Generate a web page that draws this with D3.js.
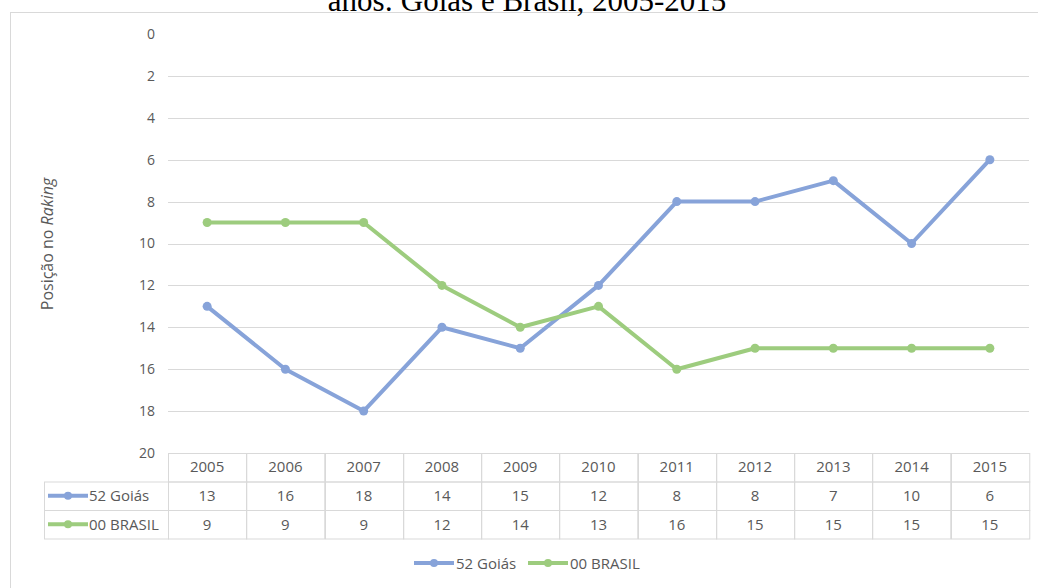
<!DOCTYPE html>
<html>
<head>
<meta charset="utf-8">
<script src="https://cdn.jsdelivr.net/npm/d3@7"></script>
<style>
body { margin: 0; background: #fff; }
svg { display: block; }
</style>
</head>
<body>
<div id="chart"></div>
<script>
// data
var years = ["2005", "2006", "2007", "2008", "2009", "2010", "2011", "2012", "2013", "2014", "2015"];
var goias = [13, 16, 18, 14, 15, 12, 8, 8, 7, 10, 6];
var brasil = [9, 9, 9, 12, 14, 13, 16, 15, 15, 15, 15];
var seriesNames = ["52 Goiás", "00 BRASIL"];
var yTicks = [0, 2, 4, 6, 8, 10, 12, 14, 16, 18, 20];

var svgWidth = 1038;
var svgHeight = 588;
var colors = ["#87a3d9", "#9dcc7e"];
var font = "'Open Sans', 'Noto Sans', sans-serif";
var textColor = "#595959";

var svg = d3.select("#chart")
    .append("svg")
    .attr("width", svgWidth)
    .attr("height", svgHeight);

// chart frame
svg.append("rect")
    .attr("x", 10.5)
    .attr("y", 12.5)
    .attr("width", 1040)
    .attr("height", 600)
    .attr("fill", "none")
    .attr("stroke", "#d9d9d9");

// title (cut off at the top in the original)
svg.append("text")
    .attr("x", 527)
    .attr("y", 11)
    .attr("text-anchor", "middle")
    .style("font-family", "'Liberation Serif', 'DejaVu Serif', serif")
    .style("font-size", "31px")
    .attr("fill", "#000")
    .text("anos: Goiás e Brasil, 2005-2015");

var plotLeft = 168, plotRight = 1029, plotTop = 34, plotBottom = 453;

var xScale = d3.scaleBand()
    .domain(years)
    .range([plotLeft, plotRight]);

var yScale = d3.scaleLinear()
    .domain([0, 20])
    .range([plotTop, plotBottom]);

// gridlines
svg.append("g")
    .selectAll("line")
    .data(yTicks.filter(d => d > 0 && d < 20))
    .enter()
    .append("line")
    .attr("x1", plotLeft)
    .attr("x2", plotRight)
    .attr("y1", d => Math.round(yScale(d)) + 0.5)
    .attr("y2", d => Math.round(yScale(d)) + 0.5)
    .attr("stroke", "#d9d9d9");

// y axis labels
var leftAxis = d3.axisLeft(yScale).tickValues(yTicks).tickSize(0).tickPadding(0);
var yAxis = svg.append("g")
    .attr("transform", "translate(155,0)")
    .call(leftAxis);
yAxis.select(".domain").remove();
yAxis.selectAll("text")
    .style("font-family", font)
    .style("font-size", "14px")
    .attr("fill", textColor);

// axis title
var yTitle = svg.append("text")
    .attr("transform", "translate(53,244) rotate(-90)")
    .attr("text-anchor", "middle")
    .style("font-family", font)
    .style("font-size", "16px")
    .attr("fill", textColor);
yTitle.append("tspan").text("Posição no ");
yTitle.append("tspan").style("font-style", "italic").text("Raking");

// lines + markers
var allSeries = [goias, brasil];
var line = d3.line()
    .x((d, i) => xScale(years[i]) + xScale.bandwidth() / 2)
    .y(d => yScale(d));

allSeries.forEach(function(values, s) {
    svg.append("path")
        .datum(values)
        .attr("d", line)
        .attr("fill", "none")
        .attr("stroke", colors[s])
        .attr("stroke-width", 4)
        .attr("stroke-linejoin", "round");
    svg.append("g")
        .selectAll("circle")
        .data(values)
        .enter()
        .append("circle")
        .attr("cx", (d, i) => xScale(years[i]) + xScale.bandwidth() / 2)
        .attr("cy", d => yScale(d))
        .attr("r", 4.5)
        .attr("fill", colors[s]);
});

// data table
var rowH = 28.5;
var tableTop = plotBottom;
var labelLeft = 44;
var table = svg.append("g");
var gridColor = "#d9d9d9";
var cellFont = "15px";

// header row (years)
table.selectAll(".hdr")
    .data(years)
    .enter()
    .append("rect")
    .attr("x", d => Math.round(xScale(d)) + 0.5)
    .attr("y", tableTop + 0.5)
    .attr("width", xScale.bandwidth())
    .attr("height", rowH)
    .attr("fill", "none")
    .attr("stroke", gridColor);

table.selectAll(".hdrText")
    .data(years)
    .enter()
    .append("text")
    .attr("x", d => xScale(d) + xScale.bandwidth() / 2)
    .attr("y", tableTop + rowH / 2 + 5)
    .attr("text-anchor", "middle")
    .style("font-family", font)
    .style("font-size", cellFont)
    .attr("fill", textColor)
    .text(d => d);

allSeries.forEach(function(values, s) {
    var y0 = tableTop + rowH * (s + 1);
    // label cell
    table.append("rect")
        .attr("x", labelLeft + 0.5)
        .attr("y", y0 + 0.5)
        .attr("width", plotLeft - labelLeft)
        .attr("height", rowH)
        .attr("fill", "none")
        .attr("stroke", gridColor);
    table.append("line")
        .attr("x1", labelLeft + 4)
        .attr("x2", labelLeft + 44)
        .attr("y1", y0 + rowH / 2)
        .attr("y2", y0 + rowH / 2)
        .attr("stroke", colors[s])
        .attr("stroke-width", 4);
    table.append("circle")
        .attr("cx", labelLeft + 24)
        .attr("cy", y0 + rowH / 2)
        .attr("r", 4)
        .attr("fill", colors[s]);
    table.append("text")
        .attr("x", labelLeft + 45)
        .attr("y", y0 + rowH / 2 + 5.5)
        .style("font-family", font)
        .style("font-size", cellFont)
        .attr("fill", textColor)
        .text(seriesNames[s]);
    // value cells
    table.append("g")
        .selectAll("rect")
        .data(years)
        .enter()
        .append("rect")
        .attr("x", d => Math.round(xScale(d)) + 0.5)
        .attr("y", y0 + 0.5)
        .attr("width", xScale.bandwidth())
        .attr("height", rowH)
        .attr("fill", "none")
        .attr("stroke", gridColor);
    table.append("g")
        .selectAll("text")
        .data(values)
        .enter()
        .append("text")
        .attr("x", (d, i) => xScale(years[i]) + xScale.bandwidth() / 2)
        .attr("y", y0 + rowH / 2 + 5.5)
        .attr("text-anchor", "middle")
        .style("font-family", font)
        .style("font-size", cellFont)
        .attr("fill", textColor)
        .text(d => d);
});

// legend
var legendX = [414, 528];
seriesNames.forEach(function(name, s) {
    var lg = svg.append("g").attr("transform", `translate(${legendX[s]}, 563)`);
    lg.append("line")
        .attr("x1", 0).attr("x2", 40)
        .attr("y1", 0).attr("y2", 0)
        .attr("stroke", colors[s])
        .attr("stroke-width", 4);
    lg.append("circle")
        .attr("cx", 20).attr("cy", 0).attr("r", 4)
        .attr("fill", colors[s]);
    lg.append("text")
        .attr("x", 42)
        .attr("y", 5.5)
        .style("font-family", font)
        .style("font-size", cellFont)
        .attr("fill", textColor)
        .text(name);
});
</script>
</body>
</html>
